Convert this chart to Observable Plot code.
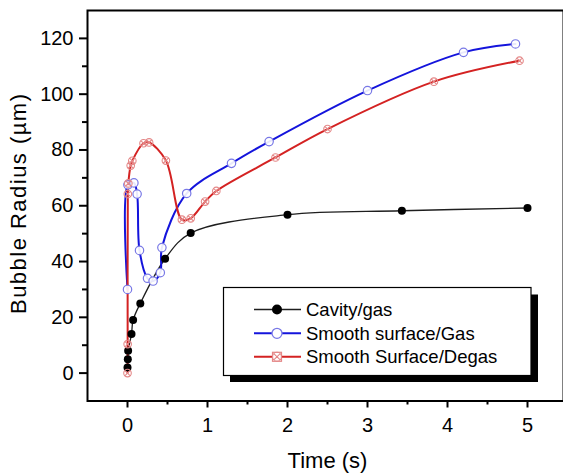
<!DOCTYPE html>
<html>
<head>
<meta charset="utf-8">
<script src="https://cdn.jsdelivr.net/npm/d3@7"></script>
<script src="https://cdn.jsdelivr.net/npm/@observablehq/plot@0.6"></script>
<style>
  html, body { margin: 0; padding: 0; background: #fff; overflow: hidden; }
  svg { display: block; }
</style>
</head>
<body>
<div id="chart"></div>
<script>
// ---- data ----
const seriesNames = ["Cavity/gas", "Smooth surface/Gas", "Smooth Surface/Degas"];

const cavityTime   = [0, 0.004, 0.008, 0.05, 0.07, 0.16, 0.47, 0.79, 2.0, 3.43, 5.0];
const cavityRadius = [2, 5, 8, 14, 19, 25, 41, 50.2, 56.8, 58.2, 59.2];

const gasTime   = [0, 0.005, 0.08, 0.12, 0.15, 0.25, 0.32, 0.41, 0.43, 0.74, 1.3, 1.77, 3.0, 4.2, 4.85];
const gasRadius = [30, 67.5, 68.2, 64.2, 44, 34, 33, 36, 45, 64.4, 75.2, 83, 101.3, 115, 118];

const degasTime   = [0, 0.002, 0.004, 0.01, 0.04, 0.06, 0.2, 0.27, 0.48, 0.68, 0.79, 0.97, 1.11, 1.85, 2.5, 3.83, 4.9];
const degasRadius = [0, 10.4, 64.2, 68, 74.4, 76.1, 82.4, 82.7, 76.2, 55, 55.5, 61.5, 65.3, 77.3, 87.5, 104.5, 112];

const xMajorTicks = [0, 1, 2, 3, 4, 5];
const xMinorTicks = [0.5, 1.5, 2.5, 3.5, 4.5];
const yMajorTicks = [0, 20, 40, 60, 80, 100, 120];
const yMinorTicks = [10, 30, 50, 70, 90, 110];

const xTitle = "Time (s)";
const yTitle = "Bubble Radius (\u00b5m)";

// ---- build tables ----
const toRows = (t, r) => t.map((d, i) => ({t: d, r: r[i]}));
const cavity = toRows(cavityTime, cavityRadius);
const gas = toRows(gasTime, gasRadius);
const degas = toRows(degasTime, degasRadius);

const colors = {
  blackLine: "#1e1e1e", blackDot: "#000",
  blueLine: "#1414dc", blueDot: "#7878e6",
  redLine: "#d42222", redDot: "#e48888"
};

// circle with an x inside
const crossCircle = {
  draw(ctx, size) {
    const r = Math.sqrt(size / Math.PI);
    const d = r * 0.7071;
    ctx.moveTo(r, 0);
    ctx.arc(0, 0, r, 0, 2 * Math.PI);
    ctx.moveTo(-d, -d); ctx.lineTo(d, d);
    ctx.moveTo(-d, d); ctx.lineTo(d, -d);
  }
};

const font = "Liberation Sans, Arial, Helvetica, sans-serif";

const chart = Plot.plot({
  width: 563,
  height: 474,
  marginLeft: 87, marginTop: 10, marginBottom: 73.5, marginRight: 0,
  style: {fontFamily: font, fontSize: "20px", background: "#fff", color: "#000"},
  x: {domain: [-0.5, 5.5], range: [87, 567]},
  y: {domain: [-10, 130], range: [400.5, 10]},
  marks: [
    Plot.axisX(xMajorTicks, {tickSize: 7, tickPadding: 10, strokeWidth: 2, tickFormat: d => String(d), label: null, fontSize: 20}),
    Plot.axisX(xMinorTicks, {tickSize: 4, strokeWidth: 2, tickFormat: () => "", label: null}),
    Plot.axisY(yMajorTicks, {tickSize: 8, tickPadding: 6, strokeWidth: 2, tickFormat: d => String(d), label: null, fontSize: 20}),
    Plot.axisY(yMinorTicks, {tickSize: 5, strokeWidth: 2, tickFormat: () => "", label: null}),
    Plot.line(cavity, {x: "t", y: "r", stroke: colors.blackLine, strokeWidth: 1.3, curve: "catmull-rom"}),
    Plot.line(gas, {x: "t", y: "r", stroke: colors.blueLine, strokeWidth: 2, curve: "catmull-rom"}),
    Plot.line(degas, {x: "t", y: "r", stroke: colors.redLine, strokeWidth: 2, curve: "catmull-rom"}),
    Plot.dot(cavity, {x: "t", y: "r", r: 4, fill: colors.blackDot, stroke: "none"}),
    Plot.dot(gas, {x: "t", y: "r", r: 4.2, fill: "#fff", fillOpacity: 0.9, stroke: colors.blueDot, strokeWidth: 1.2}),
    Plot.dot(degas, {x: "t", y: "r", r: 3.8, symbol: crossCircle, fill: "none", stroke: colors.redDot, strokeWidth: 1.1}),
    Plot.frame({stroke: "#000", strokeWidth: 2})
  ]
});

document.getElementById("chart").appendChild(chart);

// ---- axis titles and legend (layout) ----
const svg = d3.select(chart);

svg.append("text")
  .attr("x", 327.5).attr("y", 468)
  .attr("text-anchor", "middle")
  .attr("font-family", font).attr("font-size", 22)
  .attr("fill", "#000")
  .text(xTitle);

svg.append("text")
  .attr("transform", "translate(26,204) rotate(-90)")
  .attr("text-anchor", "middle")
  .attr("font-family", font).attr("font-size", 22)
  .attr("textLength", 220).attr("lengthAdjust", "spacing")
  .attr("fill", "#000")
  .text(yTitle);

const lg = svg.append("g").attr("text-anchor", "start");
lg.append("rect").attr("x", 230).attr("y", 294.5).attr("width", 308).attr("height", 87.5).attr("fill", "#000");
lg.append("rect").attr("x", 223.5).attr("y", 287.5).attr("width", 307.5).attr("height", 88).attr("fill", "#fff").attr("stroke", "#000").attr("stroke-width", 1.2);

const rows = [
  {name: seriesNames[0], line: colors.blackLine, lw: 1.3, y: 309.5, kind: "filled", mk: colors.blackDot},
  {name: seriesNames[1], line: colors.blueLine, lw: 2, y: 333.3, kind: "open", mk: colors.blueDot},
  {name: seriesNames[2], line: colors.redLine, lw: 2, y: 356.8, kind: "cross", mk: colors.redDot}
];
rows.forEach(r => {
  lg.append("line").attr("x1", 254).attr("x2", 301).attr("y1", r.y).attr("y2", r.y)
    .attr("stroke", r.line).attr("stroke-width", r.lw);
  if (r.kind === "filled") {
    lg.append("circle").attr("cx", 277).attr("cy", r.y).attr("r", 5).attr("fill", r.mk);
  } else if (r.kind === "open") {
    lg.append("circle").attr("cx", 277).attr("cy", r.y).attr("r", 5).attr("fill", "#fff").attr("stroke", r.mk).attr("stroke-width", 1.3);
  } else {
    const p = d3.path(); crossCircle.draw(p, Math.PI * 25);
    lg.append("rect").attr("x", 272.5).attr("y", r.y - 4.5).attr("width", 9).attr("height", 9).attr("fill", "#fff").attr("stroke", r.mk).attr("stroke-width", 1.2);
    lg.append("path").attr("d", p.toString()).attr("transform", `translate(277,${r.y}) scale(0.9)`).attr("fill", "none").attr("stroke", r.mk).attr("stroke-width", 1.2);
  }
  lg.append("text").attr("x", 306).attr("y", r.y + 6.5)
    .attr("text-anchor", "start")
    .attr("font-family", font).attr("font-size", 18.5).attr("fill", "#000")
    .text(r.name);
});
</script>
</body>
</html>
